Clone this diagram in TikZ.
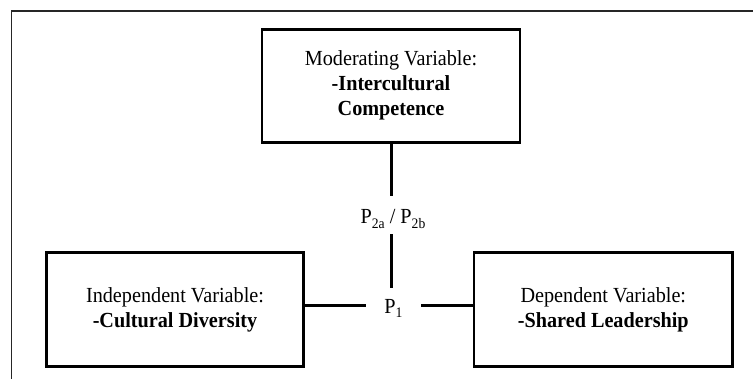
\documentclass[tikz,border=0pt]{standalone}
\usepackage{fontspec}
\setmainfont{Liberation Serif}[FakeStretch=0.94]
\newcommand{\sbs}[1]{\raisebox{-4.5pt}{\fontsize{14.5}{14.5}\selectfont #1}}
\begin{document}
\begin{tikzpicture}[x=1pt,y=1pt,
  varbox/.style={draw=black, line width=2.8pt, rectangle, align=center,
    font=\fontsize{21.5}{25}\selectfont, inner sep=0pt},
  plabel/.style={inner sep=0pt, font=\fontsize{21.5}{25}\selectfont},
  conn/.style={line width=3pt}]
\useasboundingbox (0,0) rectangle (753,-379);
\draw[line width=1.6pt, black!85] (753,-11.3) -- (11.5,-11.3) -- (11.5,-379);
\node[varbox, minimum width=258pt, minimum height=113pt] (mod) at (391,-85.8)
  {\raisebox{-2pt}{\parbox{250pt}{\centering Moderating Variable:\\ \textbf{-Intercultural}\\ \textbf{Competence}}}};
\node[varbox, minimum width=257pt, minimum height=114pt] (ind) at (175,-309.7)
  {\raisebox{-1.5pt}{\parbox{250pt}{\centering Independent Variable:\\ \textbf{-Cultural Diversity}}}};
\node[varbox, minimum width=258.5pt, minimum height=114pt] (dep) at (603.3,-309.7)
  {\raisebox{-1.5pt}{\parbox{250pt}{\centering Dependent Variable:\\ \textbf{-Shared Leadership}}}};
\node[plabel, anchor=base, text height=27.3pt, text depth=10pt] (p2) at (393,-224)
  {P\sbs{2a} / P\sbs{2b}};
\node[plabel, anchor=base, text height=25.5pt, text depth=10.5pt, inner xsep=18.5pt] (p1) at (393.5,-313.5)
  {P\sbs{1}};
\draw[conn] (mod.south) -- (mod.south |- p2.north);
\draw[conn] (mod.south |- p2.south) -- (mod.south |- p1.north);
\draw[conn] (ind.east |- p1.west) -- (p1.west);
\draw[conn] (p1.east) -- (dep.west |- p1.east);
\end{tikzpicture}
\end{document}
